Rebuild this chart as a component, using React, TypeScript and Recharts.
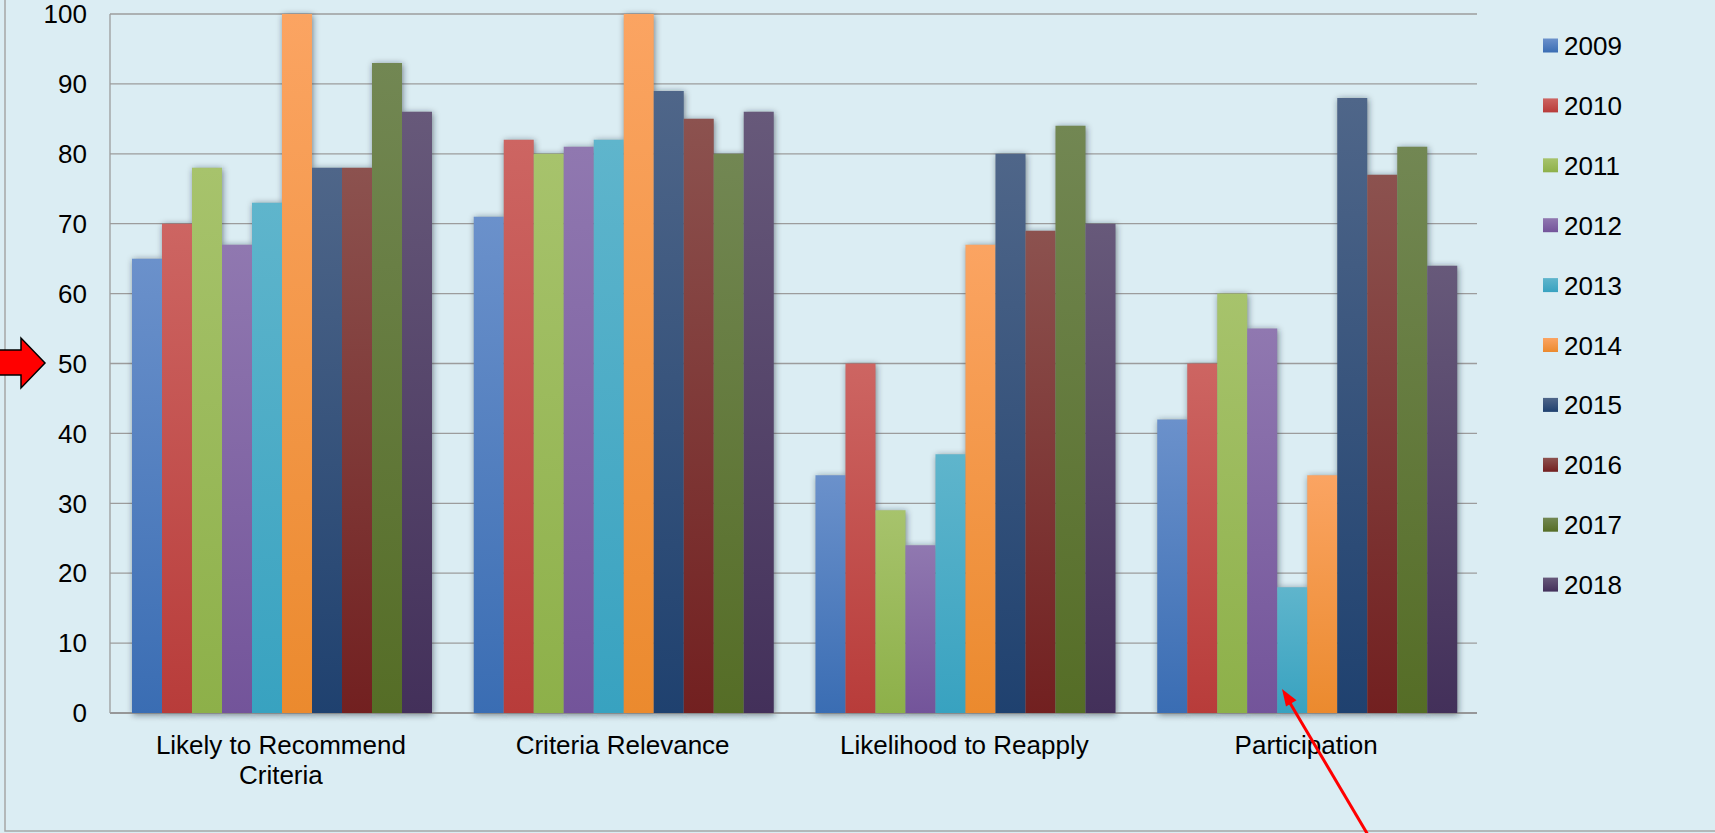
import React from 'react';
import { BarChart, Bar, XAxis, YAxis, CartesianGrid, Legend } from 'recharts';

const CATEGORIES = ['Likely to Recommend\nCriteria', 'Criteria Relevance', 'Likelihood to Reapply', 'Participation'];
const YEARS = ['2009', '2010', '2011', '2012', '2013', '2014', '2015', '2016', '2017', '2018'];

const V2009 = [65, 71, 34, 42];
const V2010 = [70, 82, 50, 50];
const V2011 = [78, 80, 29, 60];
const V2012 = [67, 81, 24, 55];
const V2013 = [73, 82, 37, 18];
const V2014 = [100, 100, 67, 34];
const V2015 = [78, 89, 80, 88];
const V2016 = [78, 85, 69, 77];
const V2017 = [93, 80, 84, 81];
const V2018 = [86, 86, 70, 64];
const SERIES = [V2009, V2010, V2011, V2012, V2013, V2014, V2015, V2016, V2017, V2018];

const Y_TICKS = [0, 10, 20, 30, 40, 50, 60, 70, 80, 90, 100];

const GRAD_TOP = ['#6b91cb', '#cd6562', '#a7c36c', '#9078b0', '#5fb5cc', '#fba462', '#4f6689', '#8c524f', '#728753', '#67597a'];
const GRAD_BOTTOM = ['#3a6db3', '#b83c3a', '#8db049', '#73549a', '#38a2c0', '#eb8a2e', '#1f416f', '#722020', '#556d26', '#43305a'];

const data = CATEGORIES.map((c, i) => {
  const row: Record<string, string | number> = { category: c };
  YEARS.forEach((y, j) => {
    row[y] = SERIES[j][i];
  });
  return row;
});

const W = 1715;
const H = 833;
const MARGIN = { top: 14, right: 238, bottom: 0, left: 0 };
const FONT = "'Liberation Sans', Arial, sans-serif";
const BG = '#DBEDF3';

const CategoryTick = (props: any) => {
  const { x, y, payload } = props;
  const lines = String(payload.value).split('\n');
  return (
    <text x={x} y={y + 41} textAnchor="middle" fontSize={26} fontFamily={FONT} fill="#000">
      {lines.map((l, i) => (
        <tspan key={i} x={x} dy={i === 0 ? 0 : 30}>
          {l}
        </tspan>
      ))}
    </text>
  );
};

const ShadowShape = (props: any) => {
  const { x, y, width, height } = props;
  if (!height || height <= 0) return null;
  return (
    <rect
      x={x + 1}
      y={y + 1}
      width={width}
      height={height + 1}
      fill="#1c2b33"
      fillOpacity={0.55}
      filter="url(#barShadow)"
    />
  );
};

const renderLegend = (props: any) => {
  const items = props.payload || [];
  return (
    <svg width={170} height={640} style={{ display: 'block', overflow: 'visible' }}>
      {items.map((it: any, i: number) => {
        const cy = 45.5 + 59.9 * i;
        return (
          <g key={i}>
            <rect x={0} y={cy - 7} width={15} height={14} fill={it.color} />
            <text x={21} y={cy + 9.5} fontSize={26} fontFamily={FONT} fill="#000">
              {it.value}
            </text>
          </g>
        );
      })}
    </svg>
  );
};

export default function App() {
  return (
    <div
      style={{
        position: 'absolute',
        left: 0,
        top: 0,
        width: W,
        height: H,
        background: BG,
        overflow: 'hidden',
        fontFamily: FONT,
      }}
    >
      <div style={{ position: 'absolute', left: 0, top: 0 }}>
        <BarChart width={W} height={H} data={data} margin={MARGIN} barCategoryGap={22} barGap={0}>
          <defs>
            <filter id="barShadow" x="-50%" y="-10%" width="200%" height="130%">
              <feGaussianBlur stdDeviation="3" />
            </filter>
          </defs>
          <CartesianGrid vertical={false} stroke="#9c9c9c" strokeWidth={1.3} />
          <XAxis
            dataKey="category"
            height={120}
            interval={0}
            tickLine={false}
            tickSize={0}
            tickMargin={0}
            axisLine={{ stroke: '#8f8f8f', strokeWidth: 1.3 }}
            tick={<CategoryTick />}
          />
          <YAxis
            width={110}
            domain={[0, 100]}
            ticks={Y_TICKS}
            interval={0}
            tickLine={false}
            tickSize={0}
            tickMargin={23}
            axisLine={{ stroke: '#9c9c9c', strokeWidth: 1.3 }}
            tick={{ fontSize: 26, fill: '#000', fontFamily: FONT }}
          />
          {YEARS.map((y) => (
            <Bar key={y} dataKey={y} isAnimationActive={false} shape={ShadowShape} legendType="none" />
          ))}
        </BarChart>
      </div>
      <div style={{ position: 'absolute', left: 0, top: 0 }}>
        <BarChart width={W} height={H} data={data} margin={MARGIN} barCategoryGap={22} barGap={0}>
          <defs>
            {YEARS.map((y, i) => (
              <linearGradient key={y} id={`grad${i}`} x1="0" y1="0" x2="0" y2="1">
                <stop offset="0%" stopColor={GRAD_TOP[i]} />
                <stop offset="100%" stopColor={GRAD_BOTTOM[i]} />
              </linearGradient>
            ))}
          </defs>
          <XAxis dataKey="category" height={120} tick={false} axisLine={false} tickLine={false} />
          <YAxis width={110} domain={[0, 100]} ticks={Y_TICKS} tick={false} axisLine={false} tickLine={false} />
          {YEARS.map((y, i) => (
            <Bar key={y} dataKey={y} name={y} fill={`url(#grad${i})`} isAnimationActive={false} />
          ))}
          <Legend
            layout="vertical"
            align="center"
            verticalAlign="middle"
            content={renderLegend}
            wrapperStyle={{ left: 1543, top: 0, width: 170 }}
          />
        </BarChart>
      </div>
      <svg
        width={W}
        height={H}
        style={{ position: 'absolute', left: 0, top: 0, pointerEvents: 'none' }}
      >
        <rect x={5} y={-10} width={W + 20} height={841} fill="none" stroke="#a6a6a6" strokeWidth={1.5} />
        <polygon
          points="-5,350 21,350 21,338 45,363 21,388 21,375 -5,375"
          fill="#ff0000"
          stroke="#000"
          strokeWidth={1.5}
          strokeLinejoin="miter"
        />
        <line x1={1290} x2={1384} y1={703} y2={862} stroke="#ff0000" strokeWidth={3} />
        <polygon points="1282,689 1296.5,700.2 1286,706.4" fill="#ff0000" />
      </svg>
    </div>
  );
}
